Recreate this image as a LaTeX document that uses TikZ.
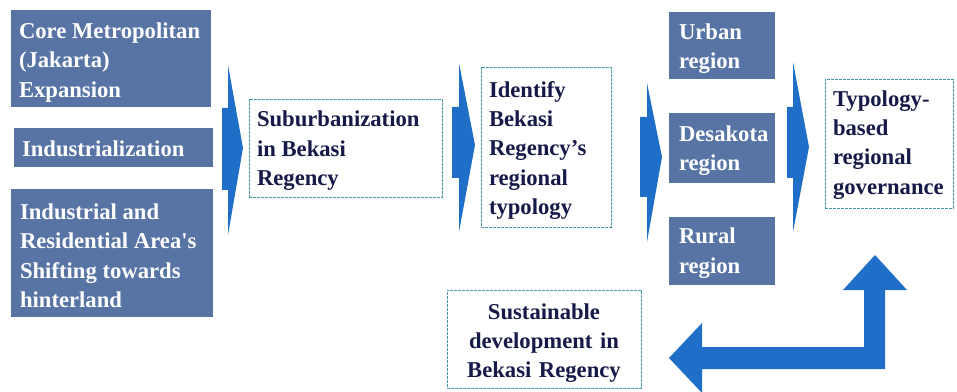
\documentclass[tikz,border=0pt]{standalone}
\usepackage{fontspec}
\setmainfont{Liberation Serif}[Ligatures=TeXOff]
\definecolor{boxblue}{RGB}{88,116,165}
\definecolor{arrowblue}{RGB}{31,111,200}
\definecolor{dashcol}{RGB}{70,150,165}
\definecolor{navy}{RGB}{22,26,72}
\tikzset{
  bluebox/.style={fill=boxblue, draw=none, inner sep=0pt},
  dashbox/.style={draw=dashcol, dash pattern=on 2pt off 1pt, line width=0.6pt, inner sep=0pt},
  boxtext/.style={font=\bfseries\fontsize{17}{22}\selectfont, inner sep=0pt, align=flush left},
  whitetext/.style={boxtext, text=white},
  navytext/.style={boxtext, text=navy},
  blockarrow/.style={fill=arrowblue, draw=none}
}
\begin{document}
\begin{tikzpicture}[x=0.75pt,y=-0.75pt]
\useasboundingbox (0,0) rectangle (957,392);
% left boxes
\node[bluebox, minimum width=200*0.75pt, minimum height=97*0.75pt] (core) at (111,58.5) {};
\node[whitetext, text width=184*0.75pt] (coret) at ([yshift=-3pt]core.center) {Core Metropolitan\\(Jakarta)\\Expansion};
\node[bluebox, minimum width=199*0.75pt, minimum height=39*0.75pt] (ind) at (113.5,147.5) {};
\node[whitetext, text width=183*0.75pt] (indt) at ([yshift=-1pt]ind.center) {Industrialization};
\node[bluebox, minimum width=202*0.75pt, minimum height=128*0.75pt] (res) at (112,253) {};
\node[whitetext, text width=184*0.75pt] (rest) at ([yshift=-2pt]res.center) {Industrial and\\Residential Area's\\Shifting towards\\hinterland};
% dashed boxes
\node[dashbox, minimum width=193*0.75pt, minimum height=98*0.75pt] (sub) at (345.5,148) {};
\node[navytext, text width=177*0.75pt] (subt) at ([yshift=-2pt]sub.center) {Suburbanization\\in Bekasi\\Regency};
\node[dashbox, minimum width=130*0.75pt, minimum height=160*0.75pt] (ident) at (546,147) {};
\node[navytext, text width=114*0.75pt] (identt) at ([yshift=-2.5pt]ident.center) {Identify\\Bekasi\\Regency’s\\regional\\typology};
\node[dashbox, minimum width=128*0.75pt, minimum height=129*0.75pt] (typ) at (889,143.5) {};
\node[navytext, text width=112*0.75pt] (typt) at ([yshift=-1pt]typ.center) {Typology-\\based\\regional\\governance};
\node[dashbox, minimum width=194*0.75pt, minimum height=98*0.75pt] (sus) at (544,339) {};
\node[navytext, align=center, text width=186*0.75pt] (sust) at ([yshift=-3pt]sus.center) {Sustainable\\development in\\Bekasi Regency};
% region boxes
\node[bluebox, minimum width=106*0.75pt, minimum height=67*0.75pt] (urban) at (722,45.5) {};
\node[whitetext, text width=86*0.75pt] (urbant) at ([yshift=-2.5pt]urban.center) {Urban\\region};
\node[bluebox, minimum width=106*0.75pt, minimum height=70*0.75pt] (desa) at (722,148) {};
\node[whitetext, text width=86*0.75pt] (desat) at ([yshift=-2pt]desa.center) {Desakota\\region};
\node[bluebox, minimum width=106*0.75pt, minimum height=68*0.75pt] (rural) at (722,251) {};
\node[whitetext, text width=86*0.75pt] (ruralt) at ([yshift=-1.5pt]rural.center) {Rural\\region};
% block arrows
\fill[blockarrow] (222,108) -- (228,108) -- (228,65) -- (243,148) -- (228,235) -- (228,190) -- (222,190) -- cycle;
\fill[blockarrow] (452,107) -- (459,107) -- (459,63) -- (475,145) -- (459,232) -- (459,178) -- (452,178) -- cycle;
\fill[blockarrow] (640,117) -- (647,117) -- (647,83) -- (662,157) -- (647,242) -- (647,197) -- (640,197) -- cycle;
\fill[blockarrow] (787,107) -- (793,107) -- (793,62) -- (809,147) -- (793,232) -- (793,178) -- (787,178) -- cycle;
% bent arrow
\fill[blockarrow] (669,358) -- (702,323) -- (702,347) -- (864,347) -- (864,290) -- (843,290) -- (875,255) -- (907,290) -- (885,290) -- (885,369) -- (702,369) -- (702,393) -- cycle;
\end{tikzpicture}
\end{document}
